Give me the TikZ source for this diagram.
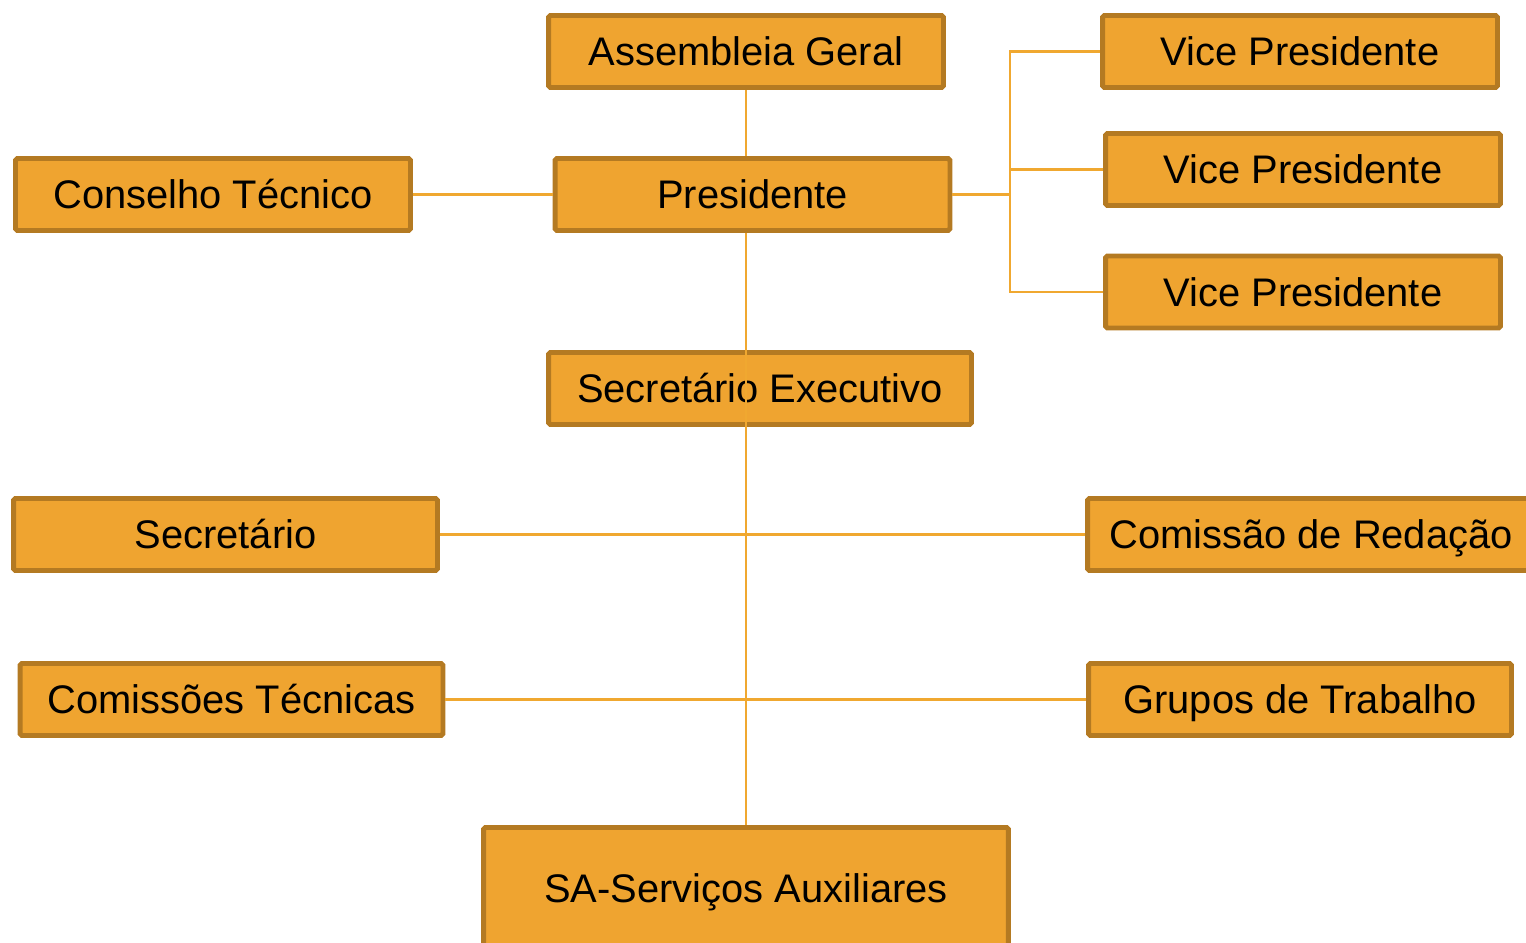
\documentclass[tikz,border=0pt]{standalone}
\usepackage{fontspec}
\setmainfont{Liberation Sans}
\definecolor{boxfill}{HTML}{EFA430}
\definecolor{boxline}{HTML}{B47A22}
\definecolor{linkline}{HTML}{F0A830}
\begin{document}
\begin{tikzpicture}[x=0.02cm,y=-0.02cm,
    orgbox/.style={draw=boxline,fill=boxfill,line width=2.8pt,rounded corners=1pt,
      minimum width=7.9cm,minimum height=1.44cm,inner sep=0pt,
      text height=20.4pt,text depth=4.2pt,
      font=\fontsize{22.7}{27}\selectfont},
    link/.style={draw=linkline,line width=1.3pt}]
  \useasboundingbox (0,0) rectangle (1526,943);
  % boxes
  \node[orgbox] (AG) at (746,51.5) {Assembleia Geral};
  \node[orgbox] (P) at (752.5,194.5) {Presidente};
  \node[orgbox] (CT) at (213,194.5) {Conselho Técnico};
  \node[orgbox] (V1) at (1300,51.5) {Vice Presidente};
  \node[orgbox] (V2) at (1303,169.5) {Vice Presidente};
  \node[orgbox] (V3) at (1303,292) {Vice Presidente};
  \node[orgbox,minimum width=8.46cm] (SE) at (760,388.5) {Secretário Executivo};
  \node[orgbox,minimum width=8.48cm] (S) at (225.5,534.5) {Secretário};
  \node[orgbox,minimum width=8.94cm] (CR) at (1311,534.5) {Comissão de Redação};
  \node[orgbox,minimum width=8.46cm] (CS) at (231.5,699.5) {Comissões Técnicas};
  \node[orgbox,minimum width=8.46cm] (GT) at (1300,699.5) {Grupos de Trabalho};
  \node[orgbox,minimum width=10.5cm,minimum height=2.42cm] (SA) at (746,888) {SA-Serviços Auxiliares};
  \coordinate (VB) at (1010,194.5);
  % links
  \draw[link] (AG.south) -- (AG.south |- P.north);
  \draw[link] (CT.east) -- (P.west);
  \draw[link] (P.east) -- (VB);
  \draw[link] (V1.west) -| (VB) |- (V3.west);
  \draw[link] (VB |- V2.west) -- (V2.west);
  \draw[link] (SA.north |- P.south) -- (SA.north);
  \draw[link] (S.east) -- (CR.west);
  \draw[link] (CS.east) -- (GT.west);
\end{tikzpicture}
\end{document}
